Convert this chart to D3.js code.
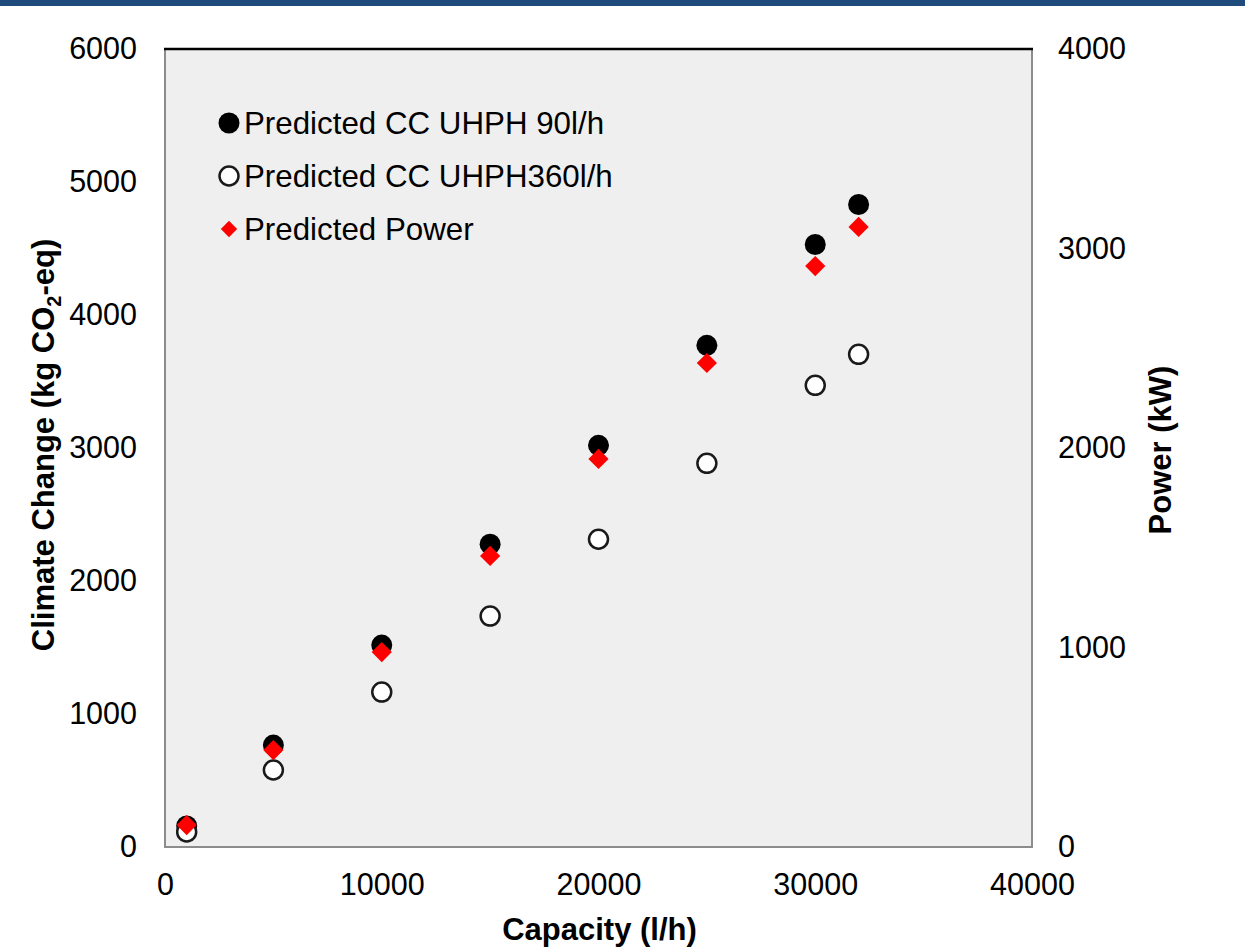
<!DOCTYPE html>
<html>
<head>
<meta charset="utf-8">
<script src="https://cdn.jsdelivr.net/npm/d3@7"></script>
<style>
  body { margin: 0; background: #fff; }
  text { font-family: "Liberation Sans", Arial, sans-serif; fill: #000; }
  .tick text { font-size: 30.5px; }
  .aTitle { font-size: 31px; font-weight: bold; }
  .legendText { font-size: 31.3px; }
</style>
</head>
<body>
<div id="chart"></div>
<script>
// Chart data
var capacity = [1000, 5000, 10000, 15000, 20000, 25000, 30000, 32000];
var cc90 = [158, 766, 1518, 2277, 3020, 3772, 4530, 4831];
var cc360 = [113, 579, 1165, 1736, 2314, 2885, 3471, 3704];
var power = [110, 486, 977, 1459, 1945, 2426, 2912, 3108];
var xTicks = [0, 10000, 20000, 30000, 40000];
var yTicksLeft = [0, 1000, 2000, 3000, 4000, 5000, 6000];
var yTicksRight = [0, 1000, 2000, 3000, 4000];
var legendLabels = ["Predicted CC UHPH 90l/h", "Predicted CC UHPH360l/h", "Predicted Power"];

var svgWidth = 1245;
var svgHeight = 951;
var margin = { top: 49, right: 213, bottom: 104, left: 165 };
var width = svgWidth - margin.left - margin.right;
var height = svgHeight - margin.top - margin.bottom;

var svg = d3.select("#chart")
    .append("svg")
    .attr("width", svgWidth)
    .attr("height", svgHeight);

// top banner
svg.append("rect")
    .attr("x", 0).attr("y", 0)
    .attr("width", svgWidth).attr("height", 6)
    .attr("fill", "#1f4a7c");

var chart = svg.append("g")
    .attr("transform", `translate(${margin.left}, ${margin.top})`);

// Scales
var xScale = d3.scaleLinear().domain([0, 40000]).range([0, width]);
var yLeft = d3.scaleLinear().domain([0, 6000]).range([height, 0]);
var yRight = d3.scaleLinear().domain([0, 4000]).range([height, 0]);

// Plot area
chart.append("rect")
    .attr("width", width)
    .attr("height", height)
    .attr("fill", "#efefef")
    .attr("stroke", "#8c8c8c")
    .attr("stroke-width", 2);

chart.append("line")
    .attr("x1", -1).attr("x2", width + 1)
    .attr("y1", 0).attr("y2", 0)
    .attr("stroke", "#000")
    .attr("stroke-width", 2.5);

// Axes
var xAxis = chart.append("g")
    .attr("transform", `translate(0, ${height})`)
    .call(d3.axisBottom(xScale).tickValues(xTicks).tickSize(0).tickPadding(26).tickFormat(d3.format("d")));

var leftAxis = chart.append("g")
    .call(d3.axisLeft(yLeft).tickValues(yTicksLeft).tickSize(0).tickPadding(28).tickFormat(d3.format("d")));

var rightAxis = chart.append("g")
    .attr("transform", `translate(${width}, 0)`)
    .call(d3.axisRight(yRight).tickValues(yTicksRight).tickSize(0).tickPadding(26).tickFormat(d3.format("d")));

[xAxis, leftAxis, rightAxis].forEach(function(ax) {
    ax.select(".domain").remove();
    ax.selectAll("text").attr("font-family", null).attr("font-size", null);
});

// Axis titles
chart.append("text")
    .attr("class", "aTitle")
    .attr("text-anchor", "middle")
    .attr("x", xScale(20000) + 1)
    .attr("y", height + 93)
    .text("Capacity (l/h)");

var leftTitle = chart.append("text")
    .attr("class", "aTitle")
    .attr("text-anchor", "middle")
    .attr("transform", `translate(${-111}, ${height / 2 - 3}) rotate(-90)`);
leftTitle.append("tspan").text("Climate Change (kg CO");
leftTitle.append("tspan").attr("font-size", "20px").attr("dy", 7).text("2");
leftTitle.append("tspan").attr("dy", -7).text("-eq)");

chart.append("text")
    .attr("class", "aTitle")
    .attr("text-anchor", "middle")
    .attr("transform", `translate(${width + 139}, ${height / 2 + 2}) rotate(-90)`)
    .text("Power (kW)");

// Points
var r = 10.5;
var diamond = d3.symbol().type(d3.symbolDiamond2).size(260);

chart.selectAll(".cc90")
    .data(capacity)
    .enter().append("circle")
    .attr("class", "cc90")
    .attr("cx", d => xScale(d))
    .attr("cy", (d, i) => yLeft(cc90[i]))
    .attr("r", r)
    .attr("fill", "#000");

chart.selectAll(".cc360")
    .data(capacity)
    .enter().append("circle")
    .attr("class", "cc360")
    .attr("cx", d => xScale(d))
    .attr("cy", (d, i) => yLeft(cc360[i]))
    .attr("r", r - 1)
    .attr("fill", "#fff")
    .attr("stroke", "#1a1a1a")
    .attr("stroke-width", 2.5);

chart.selectAll(".pow")
    .data(capacity)
    .enter().append("path")
    .attr("class", "pow")
    .attr("d", diamond)
    .attr("transform", (d, i) => `translate(${xScale(d)}, ${yRight(power[i])})`)
    .attr("fill", "#ff0000");

// Legend
var legend = chart.append("g").attr("transform", "translate(64, 74)");
legendLabels.forEach(function(label, i) {
    var row = legend.append("g").attr("transform", `translate(0, ${i * 53})`);
    if (i === 0) {
        row.append("circle").attr("r", r).attr("fill", "#000");
    } else if (i === 1) {
        row.append("circle").attr("r", r - 1).attr("fill", "#fff")
            .attr("stroke", "#1a1a1a").attr("stroke-width", 2.5);
    } else {
        row.append("path").attr("d", d3.symbol().type(d3.symbolDiamond2).size(170)).attr("fill", "#ff0000");
    }
    row.append("text")
        .attr("class", "legendText")
        .attr("x", 15)
        .attr("y", 11)
        .text(label);
});
</script>
</body>
</html>
